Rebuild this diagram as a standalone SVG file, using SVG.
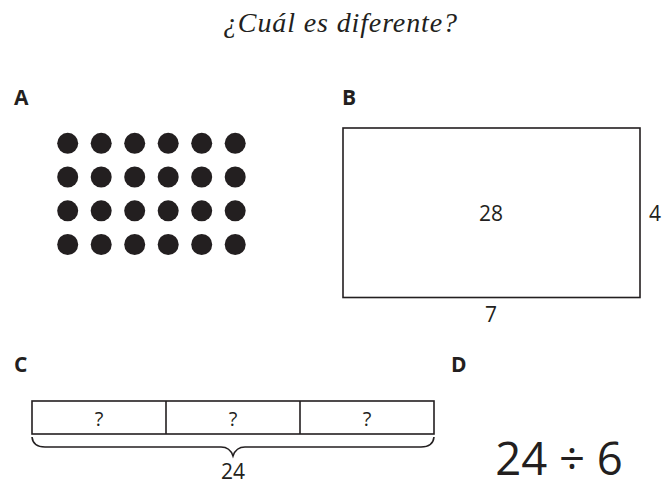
<svg xmlns="http://www.w3.org/2000/svg" width="663" height="481" viewBox="0 0 663 481">
<style>
.t{font-family:"Open Sans","Liberation Sans",sans-serif;fill:#231f20}
.lbl{font-size:21px;font-weight:bold}
.num{font-size:21px;text-anchor:middle}
.q{font-size:20px;text-anchor:middle}
.ln{fill:none;stroke:#231f20;stroke-width:1.6}
.dot{fill:#231f20}
</style>
<rect width="663" height="481" fill="#fff"/>
<text x="340" y="32" text-anchor="middle" textLength="234" lengthAdjust="spacing" style="font-family:'Liberation Serif',serif;font-style:italic;font-size:28px;fill:#231f20">¿Cuál es diferente?</text>
<g id="A">
<text class="t lbl" x="14" y="105">A</text>
<g class="dot">
<circle cx="67.7" cy="143.3" r="10.5"/><circle cx="101.2" cy="143.3" r="10.5"/><circle cx="134.7" cy="143.3" r="10.5"/><circle cx="168.2" cy="143.3" r="10.5"/><circle cx="201.7" cy="143.3" r="10.5"/><circle cx="235.2" cy="143.3" r="10.5"/>
<circle cx="67.7" cy="177" r="10.5"/><circle cx="101.2" cy="177" r="10.5"/><circle cx="134.7" cy="177" r="10.5"/><circle cx="168.2" cy="177" r="10.5"/><circle cx="201.7" cy="177" r="10.5"/><circle cx="235.2" cy="177" r="10.5"/>
<circle cx="67.7" cy="210.8" r="10.5"/><circle cx="101.2" cy="210.8" r="10.5"/><circle cx="134.7" cy="210.8" r="10.5"/><circle cx="168.2" cy="210.8" r="10.5"/><circle cx="201.7" cy="210.8" r="10.5"/><circle cx="235.2" cy="210.8" r="10.5"/>
<circle cx="67.7" cy="244.5" r="10.5"/><circle cx="101.2" cy="244.5" r="10.5"/><circle cx="134.7" cy="244.5" r="10.5"/><circle cx="168.2" cy="244.5" r="10.5"/><circle cx="201.7" cy="244.5" r="10.5"/><circle cx="235.2" cy="244.5" r="10.5"/>
</g>
</g>
<g id="B">
<text class="t lbl" x="342" y="105">B</text>
<rect class="ln" x="343" y="128" width="297" height="169.5"/>
<text class="t num" x="491" y="221">28</text>
<text class="t num" x="655" y="221">4</text>
<text class="t num" x="491" y="322">7</text>
</g>
<g id="C">
<text class="t lbl" x="14" y="372">C</text>
<rect class="ln" x="32" y="401" width="402" height="33"/>
<line class="ln" x1="166" y1="401" x2="166" y2="434"/>
<line class="ln" x1="300" y1="401" x2="300" y2="434"/>
<text class="t q" x="99" y="426">?</text>
<text class="t q" x="233" y="426">?</text>
<text class="t q" x="367" y="426">?</text>
<path class="ln" d="M32,437 Q33,447 45,447 L221,447 Q230,447 233,456 Q236,447 245,447 L421,447 Q433,447 434,437"/>
<text class="t num" x="233" y="479">24</text>
</g>
<g id="D">
<text class="t lbl" x="451" y="372">D</text>
<text class="t" x="559" y="475" text-anchor="middle" style="font-size:45.5px">24 ÷ 6</text>
</g>
</svg>
